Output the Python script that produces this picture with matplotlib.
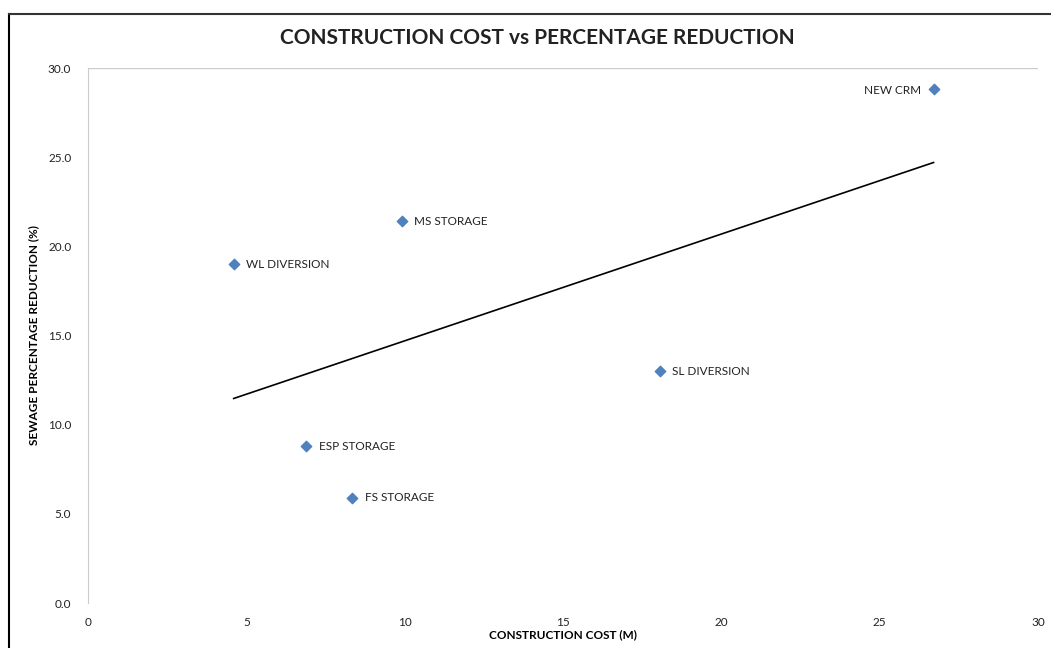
import numpy as np
import matplotlib
matplotlib.use("Agg")
from matplotlib import pyplot as plt
from matplotlib.lines import Line2D

# data
names = ["WL DIVERSION", "MS STORAGE", "ESP STORAGE", "FS STORAGE", "SL DIVERSION", "NEW CRM"]
cost = [4.6, 9.9, 6.9, 8.35, 18.05, 26.7]
reduction = [19.0, 21.4, 8.8, 5.9, 13.0, 28.8]

x_ticks = [0, 5, 10, 15, 20, 25, 30]
y_ticks = [0.0, 5.0, 10.0, 15.0, 20.0, 25.0, 30.0]

plt.rcParams["font.family"] = ["Lato", "DejaVu Sans"]

fig = plt.figure(figsize=(10.51, 6.48), dpi=100)
ax = fig.add_axes([0.0837, 0.0694, 0.904, 0.8256])

ax.scatter(cost, reduction, marker="D", s=28, color="#4f81bd", zorder=3)

# linear trendline over the data range
k, b = np.polyfit(cost, reduction, 1)
xs = np.array([min(cost), max(cost)])
ax.plot(xs, k * xs + b, color="black", linewidth=1.2, zorder=2)

for n, xv, yv in zip(names, cost, reduction):
    if n == "NEW CRM":
        ax.annotate(n, (xv, yv), xytext=(-9, -1), textcoords="offset points",
                    ha="right", va="center", fontsize=8.5, color="#222222")
    else:
        ax.annotate(n, (xv, yv), xytext=(9, 0), textcoords="offset points",
                    ha="left", va="center", fontsize=8.5, color="#222222")

ax.set_xlim(0, 30)
ax.set_ylim(0, 30)
ax.set_xticks(x_ticks)
ax.set_xticklabels([str(t) for t in x_ticks])
ax.set_yticks(y_ticks)
ax.set_yticklabels([f"{t:.1f}" for t in y_ticks])
ax.tick_params(axis="both", length=0, labelsize=8.5, labelcolor="#222222")
ax.tick_params(axis="x", pad=10)
ax.tick_params(axis="y", pad=12)

ax.axhline(30, color="#cccccc", linewidth=1)

for s in ["top", "right", "bottom"]:
    ax.spines[s].set_visible(False)
ax.spines["left"].set_color("#cccccc")

ax.set_xlabel("CONSTRUCTION COST (M)", fontsize=8.5, fontweight="bold", labelpad=1)
ax.set_ylabel("SEWAGE PERCENTAGE REDUCTION (%)", fontsize=8.5, fontweight="bold", labelpad=6)
fig.text(0.511, 0.941, "CONSTRUCTION COST vs PERCENTAGE REDUCTION", ha="center", va="center",
         fontsize=15, fontweight="bold", color="#222222")

# scanned page frame
fig.add_artist(Line2D([0.009, 0.009], [0.0, 0.979], color="black", linewidth=1.5))
fig.add_artist(Line2D([0.009, 1.0], [0.979, 0.979], color="#333333", linewidth=1.5))

fig.savefig("out.png", dpi=100)
plt.close(fig)
